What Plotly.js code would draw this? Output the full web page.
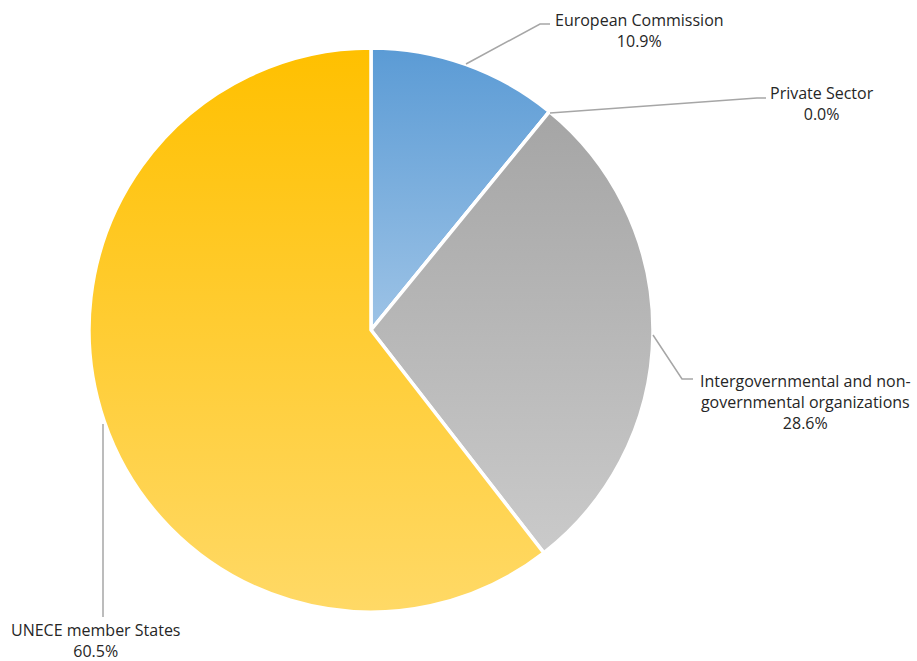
<!DOCTYPE html>
<html>
<head>
<meta charset="utf-8">
<script src="https://cdn.plot.ly/plotly-3.0.1.min.js"></script>
<style>html,body{margin:0;padding:0;background:#fff;}#chart{width:917px;height:661px;}</style>
</head>
<body>
<div id="chart"></div>
<script>
const categories = ["European Commission", "Private Sector", "Intergovernmental and non-governmental organizations", "UNECE member States"];
const labelTexts = ["European Commission", "Private Sector", "Intergovernmental and non-<br>governmental organizations", "UNECE member States"];
const shares = [10.9, 0.0, 28.6, 60.5];
const gradTop = ["#5B9BD5", "#8FAADC", "#A5A5A5", "#FFC000"];
const gradBottom = ["#9DC3E6", "#B4C7E7", "#CACACA", "#FFD966"];

const W = 917, H = 661;
const px = x => x / W;
const py = y => 1 - y / H;

// label anchor positions (pixels) and leader-line paths (pixels)
const labelPos = [[639, 30], [822, 104], [805, 402], [95, 640]];
const leaders = [
  [[466, 64], [540, 24], [550, 24]],
  [[550, 113], [757, 98], [766, 98]],
  [[653, 335], [682, 379], [693, 379]],
  [[103, 424], [103, 617]]
];

const trace = {
  type: 'pie',
  labels: categories,
  values: shares,
  sort: false,
  direction: 'clockwise',
  rotation: 0,
  textinfo: 'none',
  hoverinfo: 'label+percent',
  marker: { colors: gradTop, line: { color: '#ffffff', width: 3.5 } },
  domain: { x: [89 / W, 653 / W], y: [49 / H, 613 / H] },
  showlegend: false
};

const annotations = categories.map((c, i) => ({
  xref: 'paper', yref: 'paper',
  x: px(labelPos[i][0]), y: py(labelPos[i][1]),
  xanchor: 'center', yanchor: 'middle',
  text: labelTexts[i] + '<br>' + shares[i].toFixed(1) + '%',
  showarrow: false, align: 'center',
  font: { family: '"Open Sans", sans-serif', size: 16, color: '#262626' }
}));

const shapes = leaders.map(pts => ({
  type: 'path', xref: 'paper', yref: 'paper',
  path: pts.map((p, j) => (j ? 'L' : 'M') + px(p[0]) + ',' + py(p[1])).join(' '),
  line: { color: '#A6A6A6', width: 1.5 }
}));

const layout = {
  width: W, height: H,
  margin: { l: 0, r: 0, t: 0, b: 0 },
  paper_bgcolor: '#ffffff',
  annotations: annotations,
  shapes: shapes
};

Plotly.newPlot('chart', [trace], layout, { displayModeBar: false, staticPlot: true }).then(gd => {
  const svg = gd.querySelector('svg.main-svg');
  const ns = 'http://www.w3.org/2000/svg';
  let defs = svg.querySelector('defs');
  if (!defs) { defs = document.createElementNS(ns, 'defs'); svg.insertBefore(defs, svg.firstChild); }
  gradTop.forEach((c, i) => {
    const g = document.createElementNS(ns, 'linearGradient');
    g.setAttribute('id', 'sliceGrad' + i);
    g.setAttribute('x1', '0'); g.setAttribute('y1', '0');
    g.setAttribute('x2', '0'); g.setAttribute('y2', '1');
    const s1 = document.createElementNS(ns, 'stop');
    s1.setAttribute('offset', '0'); s1.setAttribute('stop-color', c);
    const s2 = document.createElementNS(ns, 'stop');
    s2.setAttribute('offset', '1'); s2.setAttribute('stop-color', gradBottom[i]);
    g.appendChild(s1); g.appendChild(s2);
    defs.appendChild(g);
  });
  gd.querySelectorAll('g.slice').forEach(sl => {
    const d = sl.__data__;
    const idx = d && d.i !== undefined ? d.i : null;
    const path = sl.querySelector('path.surface');
    if (path && idx !== null) path.style.fill = 'url(#sliceGrad' + idx + ')';
  });
});
</script>
</body>
</html>
